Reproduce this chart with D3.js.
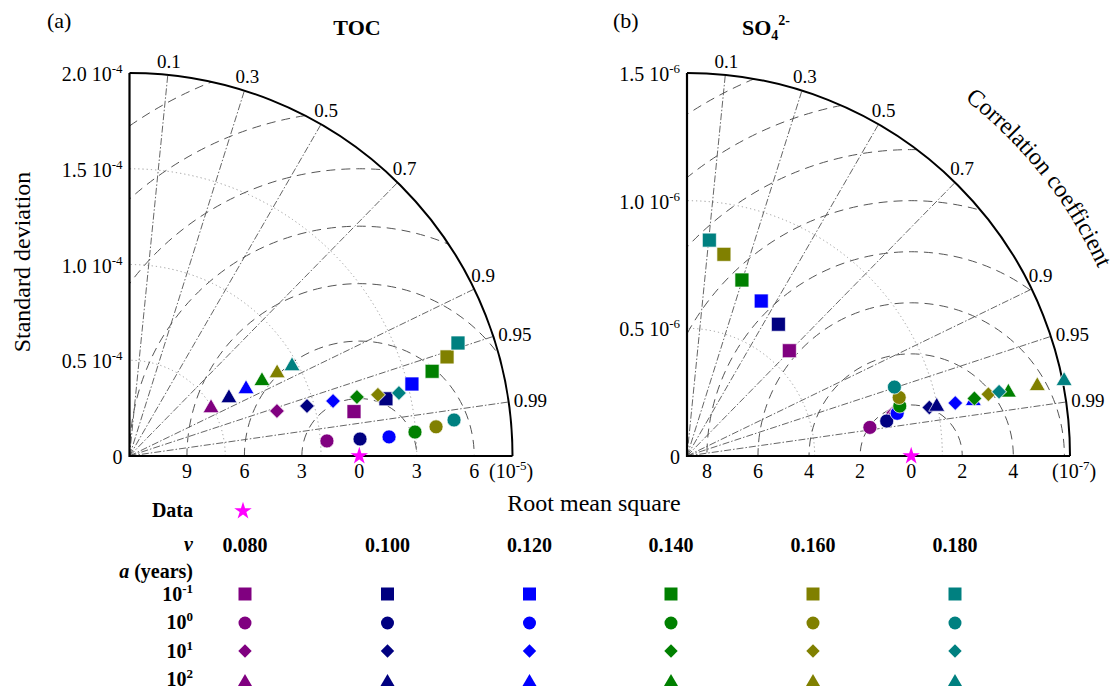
<!DOCTYPE html>
<html><head><meta charset="utf-8">
<script src="https://cdn.jsdelivr.net/npm/d3@7"></script>
<style>
body{margin:0;background:#fff}
svg{font-family:"Liberation Serif","Times New Roman",serif}
</style>
</head><body>
<svg id="c" width="1111" height="695"></svg>
<script>
// ---------------- DATA ----------------
const vValues = ["0.080","0.100","0.120","0.140","0.160","0.180"];
const aExponents = ["-1","0","1","2"];
const seriesColors = ["#800080","#000080","#0000ff","#008000","#808000","#008080"];
const corrTicks = [0.1,0.3,0.5,0.7,0.9,0.95,0.99];

// (a) TOC
const tocRef = 1.2e-4;
const tocStdTicks = [0, 0.5e-4, 1.0e-4, 1.5e-4, 2.0e-4];
const tocStdTickLabels = ["0","0.5","1.0","1.5","2.0"];
const tocRmsTicks = [-9,-6,-3,0,3,6];            // x 1e-5
const tocRmsCircles = [3,6,9,12,15,18,21];       // x 1e-5
// a = 10^-1 (squares), 10^0 (circles), 10^1 (diamonds), 10^2 (triangles); one value per v
const tocStdSquare   = [1.195e-4,1.372e-4,1.522e-4,1.641e-4,1.737e-4,1.814e-4];
const tocCorrSquare  = [0.981,0.976,0.969,0.963,0.9546,0.9456];
const tocStdCircle   = [1.034e-4,1.207e-4,1.359e-4,1.496e-4,1.608e-4,1.705e-4];
const tocCorrCircle  = [0.9971,0.9973,0.9973,0.9965,0.9955,0.9939];
const tocStdDiamond  = [8.05e-5,9.63e-5,1.101e-4,1.227e-4,1.336e-4,1.445e-4];
const tocCorrDiamond = [0.9565,0.9625,0.9654,0.968,0.971,0.9737];
const tocStdTriangle = [4.94e-5,6.01e-5,7.02e-5,7.95e-5,8.84e-5,9.70e-5];
const tocCorrTriangle= [0.862,0.864,0.867,0.870,0.872,0.875];

// (b) SO4 2-
const soRef = 0.878e-6;
const soStdTicks = [0, 0.5e-6, 1.0e-6, 1.5e-6];
const soStdTickLabels = ["0","0.5","1.0","1.5"];
const soRmsTicks = [-8,-6,-4,-2,0,2,4];          // x 1e-7
const soRmsCircles = [2,4,6,8,10,12,14,16];      // x 1e-7
const soStdSquare   = [5.75e-7,6.28e-7,6.73e-7,7.22e-7,8.03e-7,8.50e-7];
const soCorrSquare  = [0.697,0.570,0.432,0.298,0.180,0.103];
const soStdCircle   = [7.25e-7,7.94e-7,8.40e-7,8.56e-7,8.62e-7,8.56e-7];
const soCorrCircle  = [0.988,0.985,0.980,0.9735,0.964,0.949];
const soStdDiamond  = [8.24e-7,9.68e-7,1.071e-6,1.148e-6,1.205e-6,1.248e-6];
const soCorrDiamond = [0.979,0.9805,0.981,0.9805,0.9796,0.9794];
const soStdTriangle = [8.33e-7,9.97e-7,1.142e-6,1.283e-6,1.399e-6,1.506e-6];
const soCorrTriangle= [0.978,0.981,0.982,0.981,0.9806,0.9807];

// ---------------- LAYOUT ----------------
const svg = d3.select("#c");
const FONT = "'Liberation Serif','Times New Roman',serif";
const shapes = ["square","circle","diamond","triangle"];
const plotSizes = [196,154,112,111];
const legendSizes = [169,133,90,85];
function symPath(shape, size){
  const t = {square:d3.symbolSquare, circle:d3.symbolCircle, diamond:d3.symbolSquare, triangle:d3.symbolTriangle}[shape];
  return d3.symbol().type(t).size(size)();
}
function symTransform(shape, x, y){
  return `translate(${x},${y})` + (shape==="diamond" ? " rotate(45)" : "");
}

const panels = [
  {id:"a", cx:129.5, cy:456, R:383, max:2e-4, ref:tocRef, stdTicks:tocStdTicks, stdLabels:tocStdTickLabels, stdExp:"-4",
   rmsTicks:tocRmsTicks, rmsUnit:1e-5, rmsExp:"-5", rmsCircles:tocRmsCircles,
   std:[tocStdSquare,tocStdCircle,tocStdDiamond,tocStdTriangle],
   corr:[tocCorrSquare,tocCorrCircle,tocCorrDiamond,tocCorrTriangle],
   tag:"(a)", tagX:47, titleX:357},
  {id:"b", cx:687, cy:456, R:383, max:1.5e-6, ref:soRef, stdTicks:soStdTicks, stdLabels:soStdTickLabels, stdExp:"-6",
   rmsTicks:soRmsTicks, rmsUnit:1e-7, rmsExp:"-7", rmsCircles:soRmsCircles,
   std:[soStdSquare,soStdCircle,soStdDiamond,soStdTriangle],
   corr:[soCorrSquare,soCorrCircle,soCorrDiamond,soCorrTriangle],
   tag:"(b)", tagX:613, titleX:742}
];

const defs = svg.append("defs");

panels.forEach(p => {
  const r = d3.scaleLinear().domain([0, p.max]).range([0, p.R]);
  const {cx, cy, R} = p;
  const g = svg.append("g");
  const pos = (s, c) => [cx + r(s)*c, cy - r(s)*Math.sqrt(Math.max(0,1-c*c))];

  defs.append("clipPath").attr("id","clip"+p.id)
    .append("path").attr("d", `M${cx},${cy} L${cx+R},${cy} A${R},${R} 0 0 0 ${cx},${cy-R} Z`);

  // dotted std arcs
  g.selectAll(".sd").data(p.stdTicks.filter(v => v>0 && v<p.max)).join("path")
    .attr("d", v => `M${cx+r(v)},${cy} A${r(v)},${r(v)} 0 0 0 ${cx},${cy-r(v)}`)
    .attr("fill","none").attr("stroke","#9a9a9a").attr("stroke-width",1).attr("stroke-dasharray","1.2,3");

  // dashed RMS circles
  const gc = g.append("g").attr("clip-path",`url(#clip${p.id})`);
  gc.selectAll("circle").data(p.rmsCircles).join("circle")
    .attr("cx", cx + r(p.ref)).attr("cy", cy).attr("r", k => r(k*p.rmsUnit))
    .attr("fill","none").attr("stroke","#555").attr("stroke-width",1).attr("stroke-dasharray","9,6");

  // correlation lines
  g.selectAll(".cl").data(corrTicks).join("line")
    .attr("x1",cx).attr("y1",cy)
    .attr("x2", c => pos(p.max,c)[0]).attr("y2", c => pos(p.max,c)[1])
    .attr("stroke","#555").attr("stroke-width",0.9).attr("stroke-dasharray","7,2,1.5,2");

  // axes
  g.append("path").attr("d", `M${cx},${cy-R} L${cx},${cy} L${cx+R},${cy}`)
    .attr("fill","none").attr("stroke","#000").attr("stroke-width",2.2);
  g.append("path").attr("d", `M${cx+R},${cy} A${R},${R} 0 0 0 ${cx},${cy-R}`)
    .attr("fill","none").attr("stroke","#000").attr("stroke-width",2);

  // std tick labels
  p.stdTicks.forEach((v,i) => {
    const t = g.append("text").attr("x", cx-7).attr("y", cy - r(v) + 8)
      .attr("text-anchor","end").attr("font-size",20).attr("fill","#000");
    if (v === 0) { t.text(p.stdLabels[i]); }
    else {
      t.append("tspan").text(p.stdLabels[i] + " 10");
      t.append("tspan").attr("dy",-8).attr("font-size",13).text(p.stdExp);
    }
  });

  // RMS tick labels
  g.selectAll(".rt").data(p.rmsTicks).join("text")
    .attr("x", k => cx + r(p.ref + k*p.rmsUnit)).attr("y", cy + 22)
    .attr("text-anchor","middle").attr("font-size",20).text(k => Math.abs(k));
  const ut = g.append("text").attr("x", p.id==="a" ? 489 : 1052).attr("y", cy+22).attr("font-size",20);
  ut.append("tspan").text("(10");
  ut.append("tspan").attr("dy",-8).attr("font-size",13).text(p.rmsExp);
  ut.append("tspan").attr("dy",8).text(")");

  // correlation labels
  corrTicks.forEach(c => {
    const [x,y] = pos(p.max, c);
    if (c < 0.92) {
      g.append("text").attr("x", x + 10*c).attr("y", y - 14).attr("dy","0.35em")
        .attr("text-anchor","middle").attr("font-size",19).text(c);
    } else {
      g.append("text").attr("x", x + 5).attr("y", y - 2).attr("dy","0.35em")
        .attr("text-anchor","start").attr("font-size",19).text(c);
    }
  });

  // panel tag and title
  g.append("text").attr("x", p.tagX).attr("y", 28).attr("font-size",22).text(p.tag);
  if (p.id === "a") {
    g.append("text").attr("x", p.titleX).attr("y", 35).attr("text-anchor","middle")
      .attr("font-size",22).attr("font-weight","bold").text("TOC");
  } else {
    const tt = g.append("text").attr("x", p.titleX).attr("y", 35).attr("font-size",22).attr("font-weight","bold");
    tt.append("tspan").text("SO");
    tt.append("tspan").attr("dy",5).attr("font-size",14).text("4");
    tt.append("tspan").attr("dy",-15).attr("font-size",14).text("2-");
  }

  // markers: by v (colour), then shape
  vValues.forEach((v, vi) => {
    shapes.forEach((sh, si) => {
      const [x,y] = pos(p.std[si][vi], p.corr[si][vi]);
      g.append("path").attr("d", symPath(sh, plotSizes[si]))
        .attr("transform", symTransform(sh, x, y))
        .attr("fill", seriesColors[vi]).attr("stroke","rgba(255,255,255,0.7)").attr("stroke-width",1);
    });
  });

  // reference star
  g.append("path").attr("d", d3.symbol().type(d3.symbolStar).size(95)())
    .attr("transform", `translate(${cx + r(p.ref)},${cy})`).attr("fill","#ff00ff");
});

// Axis titles
svg.append("text").attr("transform","translate(30,262) rotate(-90)").attr("text-anchor","middle")
  .attr("font-size",24).text("Standard deviation");
svg.append("text").attr("x",594).attr("y",511).attr("text-anchor","middle")
  .attr("font-size",24).text("Root mean square");

// Correlation coefficient along arc of panel b
{
  const p = panels[1], rr = 452;
  const a0 = 60*Math.PI/180, a1 = 15*Math.PI/180;
  const x0 = p.cx + rr*Math.cos(a0), y0 = p.cy - rr*Math.sin(a0);
  const x1 = p.cx + rr*Math.cos(a1), y1 = p.cy - rr*Math.sin(a1);
  defs.append("path").attr("id","ccArc").attr("d", `M${x0},${y0} A${rr},${rr} 0 0 1 ${x1},${y1}`);
  svg.append("text").attr("font-size",24)
    .append("textPath").attr("href","#ccArc").attr("startOffset", ((60-38.3)/45*100)+"%")
    .attr("text-anchor","middle").text("Correlation coefficient");
}

// ---------------- LEGEND ----------------
const legX = [245,387.5,529.5,671,813,955];
const rowY = [594,623,651,682];
const labelRight = 193;
const lg = svg.append("g").attr("font-weight","bold").attr("font-size",20);
lg.append("text").attr("x",labelRight).attr("y",517).attr("text-anchor","end").text("Data");
lg.append("path").attr("d", d3.symbol().type(d3.symbolStar).size(95)())
  .attr("transform","translate(243,511)").attr("fill","#ff00ff");
lg.append("text").attr("x",labelRight).attr("y",551).attr("text-anchor","end")
  .attr("font-style","italic").text("v");
lg.selectAll(".vl").data(vValues).join("text")
  .attr("x",(d,i)=>legX[i]).attr("y",552).attr("text-anchor","middle").text(d=>d);
{
  const t = lg.append("text").attr("x",labelRight).attr("y",578).attr("text-anchor","end");
  t.append("tspan").attr("font-style","italic").text("a");
  t.append("tspan").text(" (years)");
}
aExponents.forEach((e, ai) => {
  const t = lg.append("text").attr("x",labelRight).attr("y",[601,629,658,686][ai]).attr("text-anchor","end");
  t.append("tspan").text("10");
  t.append("tspan").attr("dy",-8).attr("font-size",13).text(e);
  vValues.forEach((v, vi) => {
    lg.append("path").attr("d", symPath(shapes[ai], legendSizes[ai]))
      .attr("transform", symTransform(shapes[ai], legX[vi], rowY[ai]))
      .attr("fill", seriesColors[vi]);
  });
});
</script>
</body></html>
